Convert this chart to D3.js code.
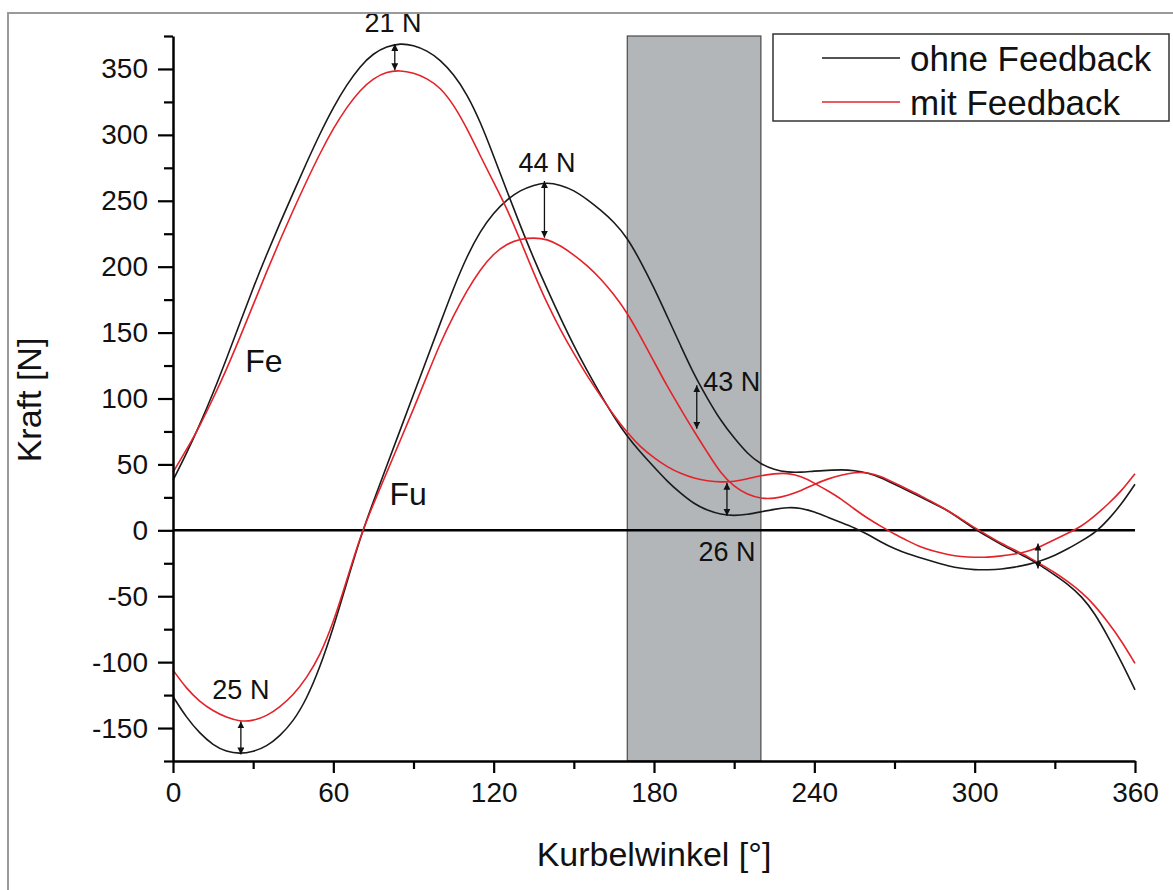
<!DOCTYPE html>
<html>
<head>
<meta charset="utf-8">
<script src="https://cdn.jsdelivr.net/npm/d3@7"></script>
<style>
  body { margin: 0; background: #fff; }
  text { font-family: "Liberation Sans", Arial, sans-serif; fill: #111; }
</style>
</head>
<body>
<div class="chart"></div>
<script>
// Kurbelwinkel in 5-degree steps
const angles = d3.range(0, 361, 5);

const feOhne = [38, 58, 80, 104, 130, 157, 184, 209, 233, 256,
  279, 301, 321, 338, 352, 362, 367, 369.5, 368, 364,
  357, 346, 331, 310, 284, 257, 231, 206, 183, 161,
  140, 121, 103, 86, 71, 59, 48, 37, 28, 20,
  15, 12, 11, 12, 14, 16, 17.5, 17, 14, 10,
  6, 2, -3, -9, -14, -18, -21, -24, -27, -29,
  -30, -30, -29.5, -28, -26, -23, -19, -14, -8, -2,
  8, 20, 35];

const feMit = [44, 61, 79, 100, 122, 146, 171, 196, 220, 243,
  265, 286, 305, 321, 334, 343, 348, 349, 347, 343,
  336, 323, 305, 284, 264, 244, 220, 195, 172, 152,
  134, 117, 102, 87, 74, 63, 55, 48, 43, 39.5,
  37.5, 36.5, 37, 39, 41.5, 43, 43.5, 41, 36, 30,
  24, 16, 9, 3, -3, -8, -13, -16, -18.5, -20,
  -20.5, -20.5, -19.5, -18, -16, -12, -7, -2, 3, 11,
  20, 30, 43];

const fuOhne = [-126, -142, -154, -163, -168, -169.5, -168, -164, -156, -145,
  -128, -104, -74, -40, -6, 22, 49, 76, 103, 130,
  157, 184, 208, 227, 241, 251, 258, 262, 264, 262,
  258, 251, 243, 234, 222, 204, 184, 162, 140, 118,
  100, 83, 70, 58, 50, 46, 44, 44, 45, 45.5,
  46, 45.5, 43.5, 40, 35, 30, 25, 20, 15, 8,
  1, -5, -11, -16, -21, -27, -34, -41, -50, -63,
  -81, -100, -121];

const fuMit = [-106, -120, -130, -137, -142, -145, -144.5, -141, -134, -125,
  -112, -95, -70, -38, -5, 20, 44, 68, 92, 117,
  142, 163, 182, 198, 210, 217.5, 221, 222, 221, 216,
  209, 201, 191, 179, 165, 147, 128, 109, 92, 75,
  59, 43, 33, 27, 24, 24, 26.5, 30, 35, 39,
  42, 44, 44, 41, 36, 31, 26, 20.5, 15, 8.5,
  2, -4, -10, -15, -20, -26, -32, -39, -47, -57,
  -70, -84, -101];

const xTicks = [0, 60, 120, 180, 240, 300, 360];
const xMinor = [30, 90, 150, 210, 270, 330];
const yTicks = [-150, -100, -50, 0, 50, 100, 150, 200, 250, 300, 350];
const yMinor = [-175, -125, -75, -25, 25, 75, 125, 175, 225, 275, 325, 375];

const band = [170, 220];

const seriesNames = ["ohne Feedback", "mit Feedback"];
const seriesColors = ["#1a1a1a", "#e3232a"];

// differences marked in the plot: angle, from, to, label, label angle, label value
const diffAngle = [83, 139, 196, 207.3, 25.4, 323.7];
const diffFrom = [369, 265, 110, 36, -145, -10];
const diffTo = [349, 222, 77, 11, -170, -29];
const diffLabel = ["21 N", "44 N", "43 N", "26 N", "25 N", ""];
const labelAngle = [82.3, 140, 198.4, 207.3, 25.4, 0];
const labelValue = [378, 271.6, 106, -23, -128, 0];
const labelAnchor = ["middle", "middle", "start", "middle", "middle", "middle"];

const forceNames = ["Fe", "Fu"];
const forceAngle = [27, 81];
const forceValue = [120, 19];

const svgW = 1173;
const svgH = 890;

const xScale = d3.scaleLinear().domain([0, 360]).range([173, 1135]);
const yScale = d3.scaleLinear().domain([-175, 375]).range([761, 36]);

const svg = d3.select(".chart")
  .append("svg")
  .attr("width", svgW)
  .attr("height", svgH);

const defs = svg.append("defs");
defs.append("marker")
  .attr("id", "head")
  .attr("viewBox", "0 0 10 10")
  .attr("refX", 10)
  .attr("refY", 5)
  .attr("markerUnits", "userSpaceOnUse")
  .attr("markerWidth", 7)
  .attr("markerHeight", 7)
  .attr("orient", "auto-start-reverse")
  .append("path")
  .attr("d", "M0,0 L10,5 L0,10 Z")
  .attr("fill", "#111");

// grey band
svg.append("rect")
  .attr("x", xScale(band[0]))
  .attr("y", yScale(375))
  .attr("width", xScale(band[1]) - xScale(band[0]))
  .attr("height", yScale(-175) - yScale(375))
  .attr("fill", "#b3b6b9")
  .attr("stroke", "#4a4a4a")
  .attr("stroke-width", 1.2);

// zero line
svg.append("line")
  .attr("x1", xScale(0))
  .attr("x2", xScale(360))
  .attr("y1", yScale(0))
  .attr("y2", yScale(0))
  .attr("stroke", "#000")
  .attr("stroke-width", 2.5);

const line = d3.line()
  .x((d, i) => xScale(angles[i]))
  .y(d => yScale(d))
  .curve(d3.curveBasis);

const curves = [
  { values: feOhne, s: 0 },
  { values: fuOhne, s: 0 },
  { values: feMit, s: 1 },
  { values: fuMit, s: 1 }
];

svg.selectAll("path.curve")
  .data(curves)
  .enter()
  .append("path")
  .attr("class", "curve")
  .attr("d", d => line(d.values))
  .attr("fill", "none")
  .attr("stroke", d => seriesColors[d.s])
  .attr("stroke-width", 1.6);

// difference arrows
diffAngle.forEach((a, i) => {
  svg.append("line")
    .attr("x1", xScale(a))
    .attr("x2", xScale(a))
    .attr("y1", yScale(diffFrom[i]))
    .attr("y2", yScale(diffTo[i]))
    .attr("stroke", "#111")
    .attr("stroke-width", 1.3)
    .attr("marker-start", "url(#head)")
    .attr("marker-end", "url(#head)");

  if (diffLabel[i]) {
    svg.append("text")
      .text(diffLabel[i])
      .attr("x", xScale(labelAngle[i]))
      .attr("y", yScale(labelValue[i]))
      .attr("text-anchor", labelAnchor[i])
      .style("font-size", "27px");
  }
});

forceNames.forEach((n, i) => {
  svg.append("text")
    .text(n)
    .attr("x", xScale(forceAngle[i]))
    .attr("y", yScale(forceValue[i]))
    .style("font-size", "32px");
});

// axes
const plainNum = d => String(d);

svg.append("g")
  .attr("transform", `translate(0, ${yScale(-175)})`)
  .call(d3.axisBottom(xScale).tickValues(xTicks).tickFormat(plainNum)
    .tickSize(12).tickSizeOuter(0).tickPadding(9));

svg.append("g")
  .attr("transform", `translate(0, ${yScale(-175)})`)
  .call(d3.axisBottom(xScale).tickValues(xMinor).tickSize(8).tickFormat(""))
  .select(".domain").remove();

svg.append("g")
  .attr("transform", `translate(${xScale(0)}, 0)`)
  .call(d3.axisLeft(yScale).tickValues(yTicks).tickFormat(plainNum)
    .tickSize(15).tickSizeOuter(0).tickPadding(10));

svg.append("g")
  .attr("transform", `translate(${xScale(0)}, 0)`)
  .call(d3.axisLeft(yScale).tickValues(yMinor).tickSize(9).tickFormat(""))
  .select(".domain").remove();

svg.selectAll(".domain").attr("stroke", "#000").attr("stroke-width", 2.5);
svg.selectAll(".tick line").attr("stroke", "#000").attr("stroke-width", 2.2);
svg.selectAll(".tick text")
  .style("font-size", "28px")
  .style("font-family", "'Liberation Sans', Arial, sans-serif")
  .attr("fill", "#111");

svg.append("text")
  .text("Kurbelwinkel [°]")
  .attr("x", xScale(180))
  .attr("y", 866)
  .attr("text-anchor", "middle")
  .style("font-size", "34px");

svg.append("text")
  .text("Kraft [N]")
  .attr("transform", "translate(41, 400) rotate(-90)")
  .attr("text-anchor", "middle")
  .style("font-size", "34px");

// legend
const legend = svg.append("g");
legend.append("rect")
  .attr("x", 773)
  .attr("y", 34)
  .attr("width", 396)
  .attr("height", 87)
  .attr("fill", "#fff")
  .attr("stroke", "#333")
  .attr("stroke-width", 1.5);

seriesNames.forEach((n, i) => {
  const ly = 58 + i * 44;
  legend.append("line")
    .attr("x1", 822)
    .attr("x2", 900)
    .attr("y1", ly)
    .attr("y2", ly)
    .attr("stroke", seriesColors[i])
    .attr("stroke-width", 1.6);
  legend.append("text")
    .text(n)
    .attr("x", 910)
    .attr("y", ly)
    .attr("dy", "0.36em")
    .style("font-size", "35px");
});

// outer frame
svg.append("rect")
  .attr("x", 8)
  .attr("y", 13)
  .attr("width", 1200)
  .attr("height", 900)
  .attr("fill", "none")
  .attr("stroke", "#9a9a9a")
  .attr("stroke-width", 2);
</script>
</body>
</html>
